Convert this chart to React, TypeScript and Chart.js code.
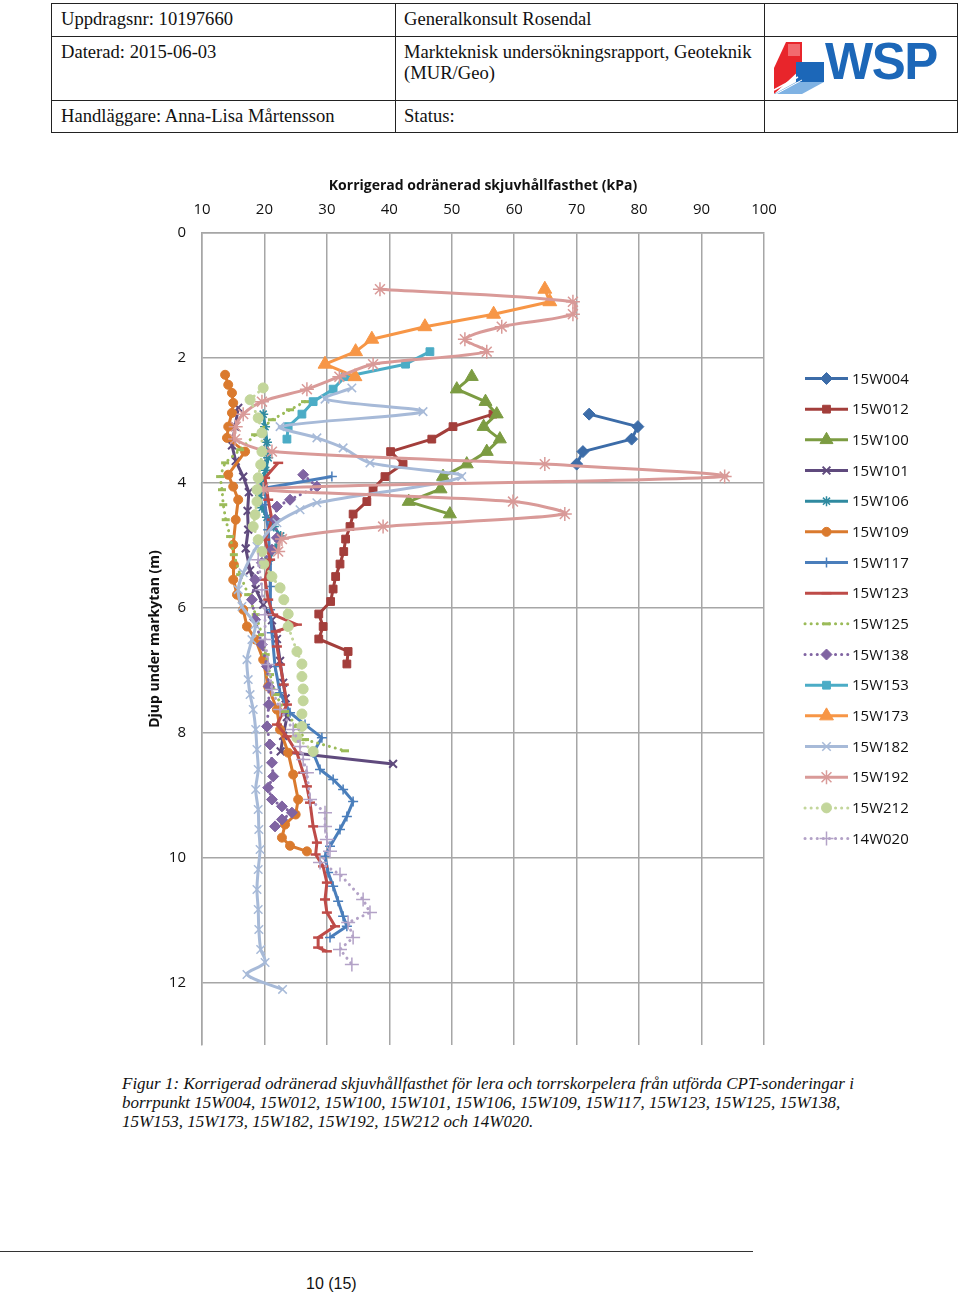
import React, { useEffect, useRef } from 'react';
import { Chart, registerables } from 'chart.js';
import { drawPoint } from 'chart.js/helpers';

Chart.register(...registerables);

// ---- axes ----
const X_MIN = 10;
const X_MAX = 100;
const X_STEP = 10;
const Y_MIN = 0;
const Y_MAX = 13;
const Y_STEP = 2;
const X_TITLE = 'Korrigerad odränerad skjuvhållfasthet (kPa)';
const Y_TITLE = 'Djup under markytan (m)';

// ---- series: [kPa, depth m] ----
const W004: [number, number][] = [[72.0, 2.9], [79.8, 3.1], [78.8, 3.3], [71.0, 3.5], [70.0, 3.7]];
const W012: [number, number][] = [[56.6, 2.9], [50.2, 3.1], [46.8, 3.3], [40.2, 3.5], [42.2, 3.7], [39.3, 3.9], [37.4, 4.1], [36.4, 4.3], [34.2, 4.5], [33.7, 4.7], [33.0, 4.9], [32.7, 5.1], [32.1, 5.3], [31.4, 5.5], [31.0, 5.7], [30.6, 5.9], [28.7, 6.1], [29.4, 6.3], [28.7, 6.5], [33.4, 6.7], [33.2, 6.9]];
const W100: [number, number][] = [[53.2, 2.3], [50.8, 2.5], [55.4, 2.7], [57.2, 2.9], [55.1, 3.1], [57.7, 3.3], [55.6, 3.5], [52.4, 3.7], [48.6, 3.9], [48.2, 4.1], [43.1, 4.3], [49.7, 4.5]];
const W101: [number, number][] = [[15.8, 2.8], [15.3, 3.1], [14.8, 3.4], [15.4, 3.65], [16.6, 3.9], [17.5, 4.15], [17.3, 4.45], [17.4, 4.75], [17.0, 5.05], [17.7, 5.4], [18.6, 5.7], [19.8, 5.95], [21.2, 6.2], [22.0, 6.5], [22.5, 6.85], [23.0, 7.2], [23.4, 7.45], [23.6, 7.75], [23.0, 8.05], [22.6, 8.3], [40.6, 8.5]];
const W106: [number, number][] = [[19.8, 2.9], [20.1, 3.1], [20.4, 3.35], [20.6, 3.6], [20.2, 3.8], [19.6, 4.0], [19.3, 4.2], [19.6, 4.4], [20.4, 4.55], [21.5, 4.7], [22.6, 4.85], [21.7, 5.05], [20.6, 5.25]];
const W109: [number, number][] = [[13.7, 2.27], [14.2, 2.43], [14.8, 2.56], [15.0, 2.72], [14.8, 2.88], [14.2, 3.1], [14.0, 3.28], [16.9, 3.5], [14.2, 3.87], [15.0, 4.06], [15.8, 4.27], [15.4, 4.59], [15.0, 4.99], [15.1, 5.31], [15.0, 5.55], [15.6, 5.79], [16.6, 6.03], [17.2, 6.3], [18.6, 6.51], [19.8, 6.83], [20.6, 7.26], [22.0, 7.63], [22.5, 7.95], [23.8, 8.32], [24.6, 8.67], [25.4, 9.07], [25.0, 9.31], [23.3, 9.47], [22.8, 9.68], [24.1, 9.81], [26.8, 9.9]];
const W117: [number, number][] = [[30.8, 3.9], [20.4, 4.08], [20.1, 4.35], [20.6, 4.75], [20.9, 5.23], [21.0, 5.66], [20.9, 6.03], [21.2, 6.4], [21.7, 6.94], [22.5, 7.36], [24.1, 7.68], [26.5, 7.87], [29.2, 8.08], [27.8, 8.32], [28.9, 8.59], [31.0, 8.75], [32.6, 8.91], [34.2, 9.1], [33.2, 9.34], [32.1, 9.55], [30.5, 9.82], [29.7, 9.98], [30.2, 10.24], [31.0, 10.46], [31.8, 10.7], [32.6, 10.94], [33.2, 11.1], [30.5, 11.28]];
const W123: [number, number][] = [[22.2, 3.68], [20.1, 3.92], [20.6, 4.27], [21.2, 4.59], [20.1, 4.91], [20.9, 5.23], [20.1, 5.55], [20.6, 5.87], [21.4, 6.11], [25.2, 6.27], [21.8, 6.38], [22.0, 6.62], [22.5, 6.91], [23.1, 7.23], [23.6, 7.55], [22.0, 7.87], [23.6, 8.06], [25.2, 8.32], [26.2, 8.64], [26.8, 8.86], [27.3, 9.12], [27.8, 9.5], [28.4, 9.76], [28.2, 9.95], [29.4, 10.14], [30.0, 10.4], [29.7, 10.67], [30.0, 10.88], [31.3, 11.1], [28.6, 11.28], [28.6, 11.44], [30.0, 11.5]];
const W125: [number, number][] = [[26.5, 2.7], [24.1, 2.83], [21.2, 2.99], [18.5, 3.23], [16.1, 3.47], [13.7, 3.68], [12.9, 3.9], [13.2, 4.11], [13.4, 4.35], [13.8, 4.59], [14.5, 4.86], [15.1, 5.15], [16.1, 5.47], [17.4, 5.79], [18.6, 6.11], [19.6, 6.43], [20.2, 6.75], [20.9, 7.07], [21.8, 7.39], [23.3, 7.66], [25.2, 7.9], [26.5, 8.11], [32.9, 8.29]];
const W138: [number, number][] = [[26.2, 3.87], [28.4, 4.06], [24.1, 4.27], [22.0, 4.38], [21.7, 4.59], [22.0, 4.88], [21.2, 5.07], [19.6, 5.28], [18.5, 5.55], [18.0, 5.87], [18.5, 6.19], [19.6, 6.59], [20.4, 6.94], [20.7, 7.26], [20.7, 7.55], [20.4, 7.9], [20.9, 8.19], [21.2, 8.48], [21.4, 8.7], [20.6, 8.88], [21.2, 9.07], [22.8, 9.18], [24.4, 9.28], [22.8, 9.39], [21.7, 9.5]];
const W153: [number, number][] = [[46.5, 1.9], [42.6, 2.1], [32.9, 2.3], [31.0, 2.5], [27.8, 2.7], [26.0, 2.9], [23.8, 3.1], [23.6, 3.3]];
const W173: [number, number][] = [[64.9, 0.9], [65.7, 1.1], [56.7, 1.3], [45.7, 1.5], [37.2, 1.7], [34.6, 1.9], [29.7, 2.1], [34.5, 2.3]];
const W182: [number, number][] = [[34.0, 2.48], [29.7, 2.66], [45.4, 2.86], [22.5, 3.1], [28.4, 3.28], [32.6, 3.44], [36.9, 3.68], [51.6, 3.9], [28.4, 4.32], [25.7, 4.43], [22.0, 4.64], [18.8, 5.02], [16.6, 5.44], [15.8, 5.71], [16.4, 5.98], [18.5, 6.27], [18.0, 6.51], [17.2, 6.83], [17.4, 7.15], [17.7, 7.39], [18.2, 7.63], [18.6, 7.95], [18.8, 8.27], [19.0, 8.59], [18.6, 8.91], [19.0, 9.23], [19.1, 9.55], [19.3, 9.87], [19.0, 10.19], [18.8, 10.51], [19.0, 10.83], [19.1, 11.15], [19.4, 11.47], [20.1, 11.68], [17.2, 11.87], [22.9, 12.11]];
const W192: [number, number][] = [[38.5, 0.9], [69.4, 1.1], [69.4, 1.3], [58.0, 1.5], [52.1, 1.7], [55.6, 1.9], [37.4, 2.1], [32.0, 2.3], [26.8, 2.5], [19.6, 2.7], [16.6, 2.9], [15.4, 3.1], [15.3, 3.3], [21.2, 3.5], [64.9, 3.7], [93.7, 3.9], [19.8, 4.1], [59.8, 4.3], [68.1, 4.5], [39.0, 4.7], [22.8, 4.9], [22.2, 5.1]];
const W212: [number, number][] = [[19.8, 2.48], [17.7, 2.67], [19.0, 2.96], [19.6, 3.2], [19.6, 3.5], [19.4, 3.71], [19.0, 3.92], [18.8, 4.11], [18.8, 4.3], [18.5, 4.51], [18.2, 4.7], [19.0, 4.91], [19.6, 5.1], [19.9, 5.3], [21.2, 5.5], [22.5, 5.68], [23.1, 5.87], [23.8, 6.1], [23.8, 6.3], [25.2, 6.7], [26.0, 6.9], [26.0, 7.1], [26.2, 7.3], [26.2, 7.49], [26.0, 7.7], [26.0, 7.9], [25.2, 8.08], [27.8, 8.3]];
const W020: [number, number][] = [[19.0, 5.23], [19.6, 5.71], [20.1, 6.11], [20.1, 6.51], [20.6, 6.91], [21.2, 7.31], [22.5, 7.63], [24.6, 7.95], [25.7, 8.22], [26.2, 8.43], [26.8, 8.64], [27.3, 9.07], [29.7, 9.28], [29.7, 9.5], [30.0, 9.71], [30.5, 9.9], [28.9, 10.08], [32.1, 10.27], [35.8, 10.67], [36.9, 10.88], [33.4, 11.04], [34.2, 11.28], [32.1, 11.47], [34.0, 11.71]];

const SERIES_NAMES = ['15W004', '15W012', '15W100', '15W101', '15W106', '15W109', '15W117', '15W123', '15W125', '15W138', '15W153', '15W173', '15W182', '15W192', '15W212', '14W020'];
const SERIES_DATA = [W004, W012, W100, W101, W106, W109, W117, W123, W125, W138, W153, W173, W182, W192, W212, W020];

// ---- styles (not data) ----
type Sty = { color: string; point: string; r: number; pbw: number; dotted?: boolean; tension?: number };
const STYLES: Sty[] = [
  { color: '#3C6CA8', point: 'rectRot', r: 6, pbw: 1 },
  { color: '#A33E3B', point: 'rect', r: 5.5, pbw: 1 },
  { color: '#7C9C42', point: 'triangle', r: 7.5, pbw: 1 },
  { color: '#5F4A7D', point: 'crossRot', r: 5.5, pbw: 2 },
  { color: '#2F8AA0', point: 'star', r: 5, pbw: 1.5 },
  { color: '#DA7A2E', point: 'circle', r: 4.5, pbw: 1 },
  { color: '#4A7EBB', point: 'cross', r: 5, pbw: 1.5 },
  { color: '#BE4B48', point: 'line', r: 5, pbw: 2.5 },
  { color: '#9BBB59', point: 'line', r: 4, pbw: 3, dotted: true },
  { color: '#8064A2', point: 'rectRot', r: 5.5, pbw: 1, dotted: true },
  { color: '#4BACC6', point: 'rect', r: 5.5, pbw: 1 },
  { color: '#F79646', point: 'triangle', r: 8, pbw: 1 },
  { color: '#A7BAD8', point: 'crossRot', r: 6, pbw: 1.5, tension: 0.3 },
  { color: '#D99A98', point: 'star', r: 7, pbw: 1.5, tension: 0.3 },
  { color: '#C3D69B', point: 'circle', r: 5, pbw: 1, dotted: true },
  { color: '#B3A2C7', point: 'cross', r: 7, pbw: 1.5, dotted: true },
];

// canvas placement on page
const CANVAS_LEFT = 140;
const CANVAS_TOP = 170;
const CANVAS_W = 800;
const CANVAS_H = 900;

const FONT = '"Open Sans", "DejaVu Sans", sans-serif';
const GRID = '#A6A6A6';

const legendPlugin = {
  id: 'sideLegend',
  afterDraw(chart: any) {
    const ctx = chart.ctx as CanvasRenderingContext2D;
    const x0 = 805 - CANVAS_LEFT;
    const x1 = 848 - CANVAS_LEFT;
    chart.data.datasets.forEach((ds: any, i: number) => {
      const y = 378.5 - CANVAS_TOP + i * 30.67;
      ctx.save();
      ctx.strokeStyle = ds.borderColor;
      ctx.lineWidth = ds.borderWidth;
      ctx.lineCap = ds.borderCapStyle || 'butt';
      ctx.setLineDash(ds.borderDash || []);
      ctx.beginPath();
      ctx.moveTo(x0, y);
      ctx.lineTo(x1, y);
      ctx.stroke();
      ctx.setLineDash([]);
      ctx.lineCap = 'butt';
      ctx.fillStyle = ds.pointBackgroundColor;
      ctx.strokeStyle = ds.pointBorderColor;
      ctx.lineWidth = ds.pointBorderWidth;
      drawPoint(ctx, { pointStyle: ds.pointStyle, radius: ds.pointRadius, rotation: 0, borderWidth: ds.pointBorderWidth } as any, (x0 + x1) / 2, y);
      ctx.fillStyle = '#111';
      ctx.font = `15px ${FONT}`;
      ctx.textBaseline = 'middle';
      ctx.textAlign = 'left';
      ctx.fillText(ds.label, x1 + 4, y + 1);
      ctx.restore();
    });
  },
};

function DepthChart() {
  const ref = useRef<HTMLCanvasElement | null>(null);
  useEffect(() => {
    if (!ref.current) return;
    const n = SERIES_DATA.length;
    const datasets = SERIES_DATA.map((arr, i) => {
      const s = STYLES[i];
      return {
        label: SERIES_NAMES[i],
        data: arr.map(([kpa, depth]) => ({ x: kpa, y: depth })),
        showLine: true,
        borderColor: s.color,
        backgroundColor: s.color,
        borderWidth: 3,
        borderDash: s.dotted ? [0.1, 6] : [],
        borderCapStyle: s.dotted ? 'round' : 'butt',
        borderJoinStyle: 'round',
        tension: s.tension || 0,
        pointStyle: s.point,
        pointRadius: s.r,
        pointBorderWidth: s.pbw,
        pointBackgroundColor: s.color,
        pointBorderColor: s.color,
        pointHoverRadius: s.r,
        order: n - i,
        clip: false,
      };
    });
    const chart = new Chart(ref.current, {
      type: 'scatter',
      data: { datasets: datasets as any },
      options: {
        animation: false,
        responsive: false,
        maintainAspectRatio: false,
        devicePixelRatio: 1,
        layout: { padding: { left: 0, top: 0, right: 176, bottom: 25 } },
        plugins: { legend: { display: false }, tooltip: { enabled: false } },
        scales: {
          x: {
            type: 'linear',
            position: 'top',
            min: X_MIN,
            max: X_MAX,
            ticks: { stepSize: X_STEP, padding: 14, color: '#111', font: { family: FONT, size: 15 } },
            grid: { color: GRID, lineWidth: 1.5, drawTicks: false },
            border: { color: GRID, width: 1.5 },
            title: { display: true, text: X_TITLE, color: '#111', font: { family: FONT, size: 14, weight: 'bold' }, padding: { top: 8, bottom: 0 } },
            afterFit: (s: any) => { s.height = 63; },
          },
          y: {
            type: 'linear',
            reverse: true,
            min: Y_MIN,
            max: Y_MAX,
            ticks: { stepSize: Y_STEP, includeBounds: false, padding: 16, color: '#111', font: { family: FONT, size: 15 } },
            grid: { color: GRID, lineWidth: 1.5, drawTicks: false },
            border: { color: GRID, width: 1.5 },
            title: { display: true, text: Y_TITLE, color: '#111', font: { family: FONT, size: 14, weight: 'bold' }, padding: { top: 6.5, bottom: 0 } },
            afterFit: (s: any) => { s.width = 62; },
          },
        },
      } as any,
      plugins: [legendPlugin],
    });
    return () => chart.destroy();
  }, []);
  return (
    <canvas
      ref={ref}
      width={CANVAS_W}
      height={CANVAS_H}
      style={{ position: 'absolute', left: CANVAS_LEFT, top: CANVAS_TOP, width: CANVAS_W, height: CANVAS_H }}
    />
  );
}

const SERIF = '"Liberation Serif", "Times New Roman", serif';

function Cell({ left, top, children, size = 18.6 }: { left: number; top: number; children: React.ReactNode; size?: number }) {
  return (
    <div style={{ position: 'absolute', left, top: top - 11, height: 22, lineHeight: '22px', fontSize: size, fontFamily: SERIF, color: '#111', whiteSpace: 'nowrap' }}>
      {children}
    </div>
  );
}

function Line({ left, top, width, height }: { left: number; top: number; width: number; height: number }) {
  return <div style={{ position: 'absolute', left, top, width, height, background: '#222' }} />;
}

function Header() {
  return (
    <>
      <Line left={51} top={3} width={907} height={1} />
      <Line left={51} top={132} width={907} height={1} />
      <Line left={51} top={3} width={1} height={130} />
      <Line left={957} top={3} width={1} height={130} />
      <Line left={51} top={36} width={907} height={1} />
      <Line left={51} top={100} width={907} height={1} />
      <Line left={395} top={3} width={1} height={130} />
      <Line left={764} top={3} width={1} height={130} />
      <Cell left={61} top={19}>Uppdragsnr: 10197660</Cell>
      <Cell left={61} top={52}>Daterad: 2015-06-03</Cell>
      <Cell left={61} top={116}>Handläggare: Anna-Lisa Mårtensson</Cell>
      <Cell left={404} top={19}>Generalkonsult Rosendal</Cell>
      <Cell left={404} top={52}>Markteknisk undersökningsrapport, Geoteknik</Cell>
      <Cell left={404} top={73}>(MUR/Geo)</Cell>
      <Cell left={404} top={116}>Status:</Cell>
      <svg style={{ position: 'absolute', left: 772, top: 40 }} width={60} height={56} viewBox="0 0 60 56">
        <polygon points="14,2 30,2 30,28 2,54 2,28" fill="#E8252B" />
        <polygon points="16,4 28,4 28,16 16,16" fill="#F26A6E" />
        <polygon points="24,22 52,22 52,42 24,42" fill="#1C67B8" />
        <polygon points="2,54 24,42 52,42 30,54" fill="#7FB2E3" />
        <line x1="2" y1="50" x2="26" y2="37" stroke="#ffffff" strokeWidth="1.5" />
        <line x1="4" y1="54" x2="30" y2="40" stroke="#ffffff" strokeWidth="1" />
      </svg>
      <div style={{ position: 'absolute', left: 825, top: 34, fontFamily: '"Liberation Sans", Arial, sans-serif', fontWeight: 'bold', fontSize: 51, lineHeight: '56px', color: '#1C67B8', letterSpacing: -1.5 }}>
        WSP
      </div>
    </>
  );
}

function Caption() {
  return (
    <div style={{ position: 'absolute', left: 122, top: 1074, fontFamily: SERIF, fontStyle: 'italic', fontSize: 17, lineHeight: '19px', color: '#111', whiteSpace: 'nowrap' }}>
      <div>Figur 1: Korrigerad odränerad skjuvhållfasthet för lera och torrskorpelera från utförda CPT-sonderingar i</div>
      <div>borrpunkt 15W004, 15W012, 15W100, 15W101, 15W106, 15W109, 15W117, 15W123, 15W125, 15W138,</div>
      <div>15W153, 15W173, 15W182, 15W192, 15W212 och 14W020.</div>
    </div>
  );
}

export default function App() {
  return (
    <div style={{ position: 'absolute', left: 0, top: 0, width: 960, height: 1295, background: '#fff', overflow: 'hidden' }}>
      <Header />
      <DepthChart />
      <Caption />
      <div style={{ position: 'absolute', left: 0, top: 1251, width: 753, height: 1, background: '#333' }} />
      <div style={{ position: 'absolute', left: 306, top: 1274, fontFamily: '"Liberation Sans", Arial, sans-serif', fontSize: 16, lineHeight: '20px', color: '#111' }}>
        10 (15)
      </div>
    </div>
  );
}
